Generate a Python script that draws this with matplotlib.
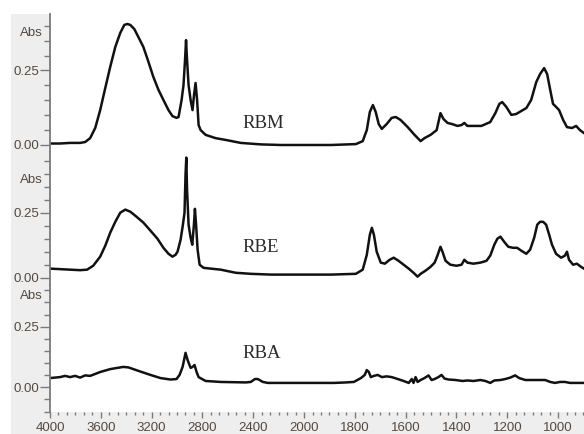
import numpy as np
import matplotlib
matplotlib.use("Agg")
import matplotlib.pyplot as plt
from matplotlib.patches import Rectangle
from matplotlib.ticker import FixedLocator, MultipleLocator, FixedFormatter

# ---------------- data ----------------
rbm_wn = [4000, 3921, 3842, 3763, 3723, 3684, 3644, 3605, 3565, 3526, 3486, 3447, 3415, 3391,
          3368, 3336, 3304, 3265, 3225, 3186, 3146, 3107, 3067, 3036, 3004, 2988, 2964, 2949,
          2937, 2929, 2921, 2909, 2893, 2878, 2866, 2854, 2842, 2830, 2814, 2775, 2696, 2617,
          2498, 2340, 2182, 2024, 1894, 1796, 1769, 1753, 1741, 1729, 1718, 1706, 1694, 1675,
          1655, 1639, 1620, 1592, 1565, 1541, 1526, 1502, 1478, 1463, 1451, 1435, 1416, 1396,
          1380, 1369, 1357, 1329, 1302, 1267, 1247, 1231, 1220, 1204, 1184, 1165, 1145, 1125,
          1106, 1086, 1071, 1055, 1043, 1031, 1020, 1008, 996, 980, 965, 945, 929, 914, 898]
rbm_abs = [0.005, 0.005, 0.007, 0.007, 0.010, 0.023, 0.057, 0.117, 0.191, 0.262, 0.329, 0.376,
           0.403, 0.406, 0.403, 0.389, 0.362, 0.329, 0.279, 0.228, 0.185, 0.151, 0.117, 0.097,
           0.091, 0.094, 0.151, 0.201, 0.285, 0.352, 0.285, 0.201, 0.151, 0.117, 0.168, 0.208,
           0.151, 0.067, 0.050, 0.034, 0.023, 0.017, 0.007, 0.002, 0.000, 0.000, 0.000, 0.003,
           0.013, 0.050, 0.111, 0.134, 0.111, 0.070, 0.054, 0.070, 0.091, 0.094, 0.084, 0.060,
           0.034, 0.013, 0.023, 0.034, 0.050, 0.107, 0.087, 0.074, 0.070, 0.064, 0.067, 0.074,
           0.064, 0.064, 0.064, 0.077, 0.107, 0.138, 0.144, 0.128, 0.101, 0.104, 0.114, 0.124,
           0.151, 0.211, 0.238, 0.258, 0.238, 0.185, 0.138, 0.128, 0.117, 0.084, 0.060, 0.057,
           0.064, 0.050, 0.040]

rbe_wn = [4000, 3921, 3842, 3763, 3708, 3660, 3605, 3565, 3526, 3486, 3447, 3407, 3368, 3320,
          3265, 3209, 3154, 3107, 3067, 3036, 3012, 2996, 2972, 2956, 2941, 2933, 2927, 2921,
          2909, 2893, 2880, 2867, 2859, 2850, 2838, 2822, 2791, 2735, 2656, 2538, 2419, 2261,
          2024, 1894, 1796, 1769, 1753, 1741, 1733, 1725, 1714, 1698, 1682, 1663, 1647, 1628,
          1608, 1588, 1569, 1553, 1541, 1522, 1502, 1486, 1475, 1463, 1455, 1443, 1424, 1400,
          1380, 1369, 1357, 1333, 1306, 1282, 1267, 1251, 1239, 1227, 1212, 1196, 1177, 1161,
          1145, 1125, 1110, 1094, 1082, 1071, 1059, 1047, 1035, 1024, 1008, 988, 973, 965, 957,
          941, 926, 910, 898]
rbe_abs = [0.035, 0.033, 0.031, 0.029, 0.031, 0.046, 0.081, 0.123, 0.173, 0.215, 0.250, 0.262,
           0.254, 0.235, 0.212, 0.181, 0.150, 0.115, 0.092, 0.081, 0.088, 0.100, 0.146, 0.196,
           0.250, 0.396, 0.462, 0.338, 0.204, 0.154, 0.127, 0.204, 0.265, 0.204, 0.108, 0.050,
           0.038, 0.035, 0.031, 0.019, 0.015, 0.012, 0.012, 0.012, 0.015, 0.031, 0.088, 0.165,
           0.192, 0.165, 0.100, 0.058, 0.054, 0.069, 0.077, 0.065, 0.050, 0.035, 0.019, 0.004,
           0.015, 0.027, 0.042, 0.058, 0.085, 0.119, 0.100, 0.065, 0.050, 0.046, 0.050, 0.069,
           0.058, 0.054, 0.058, 0.065, 0.085, 0.127, 0.150, 0.158, 0.138, 0.119, 0.115, 0.115,
           0.104, 0.092, 0.108, 0.154, 0.204, 0.215, 0.215, 0.204, 0.165, 0.127, 0.092, 0.077,
           0.085, 0.100, 0.069, 0.050, 0.054, 0.042, 0.035]

rba_wn = [4000, 3960, 3921, 3881, 3842, 3802, 3763, 3723, 3684, 3644, 3605, 3565, 3526, 3470,
          3423, 3383, 3344, 3289, 3209, 3130, 3051, 3004, 2980, 2956, 2933, 2917, 2893, 2878,
          2862, 2846, 2830, 2775, 2656, 2458, 2419, 2387, 2364, 2324, 2285, 2024, 1882, 1835,
          1804, 1776, 1761, 1753, 1745, 1737, 1725, 1710, 1694, 1675, 1655, 1631, 1608, 1588,
          1576, 1569, 1561, 1553, 1541, 1526, 1510, 1498, 1486, 1471, 1459, 1447, 1431, 1404,
          1376, 1357, 1333, 1306, 1286, 1267, 1251, 1227, 1208, 1188, 1169, 1153, 1129, 1090,
          1051, 1031, 1012, 992, 973, 953, 926, 898]
rba_abs = [0.038, 0.040, 0.042, 0.047, 0.042, 0.047, 0.040, 0.049, 0.047, 0.055, 0.063, 0.069,
           0.075, 0.080, 0.084, 0.082, 0.075, 0.065, 0.051, 0.038, 0.032, 0.034, 0.051, 0.084,
           0.142, 0.113, 0.080, 0.084, 0.092, 0.063, 0.042, 0.026, 0.022, 0.020, 0.022, 0.034,
           0.034, 0.022, 0.018, 0.018, 0.018, 0.020, 0.022, 0.038, 0.051, 0.071, 0.063, 0.042,
           0.047, 0.051, 0.042, 0.045, 0.042, 0.034, 0.026, 0.018, 0.034, 0.018, 0.042, 0.022,
           0.030, 0.038, 0.049, 0.030, 0.034, 0.042, 0.051, 0.036, 0.032, 0.030, 0.026, 0.028,
           0.026, 0.030, 0.026, 0.018, 0.028, 0.030, 0.034, 0.040, 0.049, 0.038, 0.030, 0.030,
           0.030, 0.022, 0.018, 0.022, 0.022, 0.018, 0.018, 0.018]

series_names = ["RBM", "RBE", "RBA"]
x_ticks = [4000, 3600, 3200, 2800, 2400, 2000, 1800, 1600, 1400, 1200, 1000]
y_ticks = [0.00, 0.25]
y_ticklabels = ["0.00", "0.25"]

# ---------------- split wavenumber scale (expanded below 2000) ----------------
# increasing in x; the axis is then inverted through the x limits
def fwd(x):
    x = np.asarray(x, dtype=float)
    return np.where(x >= 2000, (x - 2000) / 400.0, (x - 2000) / 200.0)

def inv(t):
    t = np.asarray(t, dtype=float)
    return np.where(t >= 0, 2000 + 400.0 * t, 2000 + 200.0 * t)

W, H = 584, 434
fig = plt.figure(figsize=(W / 100, H / 100), dpi=100)
fig.patch.set_facecolor("white")
bg = Rectangle((11 / W, 0), 1, (H - 14) / H, transform=fig.transFigure,
               facecolor="#eeeeee", edgecolor="none", zorder=-5)
fig.patches.append(bg)

tick_col = "#7a7a7a"
lab_col = "#54493f"
ax_left = 50 / W
ax_w = 1 - ax_left
fs = 9.5

# (top px, bottom px, ylim)
panels = [
    (14, 152, (-0.0235, 0.4396)),
    (152, 285, (-0.028, 0.4835)),
    (285, 412, (-0.102, 0.422)),
]
datas = [(rbm_wn, rbm_abs), (rbe_wn, rbe_abs), (rba_wn, rba_abs)]
label_pos = [(2324, 0.072), (2340, 0.118), (2332, 0.141)]

minor_t = np.arange(-5.5, 5.01, 1 / 6)
for i, ((top, bot, ylim), (wn, ab), name, lp) in enumerate(zip(panels, datas, series_names, label_pos)):
    ax = fig.add_axes([ax_left, (H - bot) / H, ax_w, (bot - top) / H])
    ax.set_facecolor("white")
    ax.set_xscale("function", functions=(fwd, inv))
    ax.plot(wn, ab, color="#111111", lw=1.8, solid_joinstyle="round")
    ax.set_xlim(4000, 898)
    ax.set_ylim(*ylim)
    for s in ["top", "right", "bottom"]:
        ax.spines[s].set_visible(False)
    ax.spines["left"].set_color(tick_col)
    ax.spines["left"].set_linewidth(1.3)
    ax.yaxis.set_major_locator(FixedLocator(y_ticks))
    ax.yaxis.set_major_formatter(FixedFormatter(y_ticklabels))
    ax.yaxis.set_minor_locator(MultipleLocator(0.05))
    ax.tick_params(axis="y", which="major", direction="out", length=7, width=1,
                   color=tick_col, labelcolor=lab_col, labelsize=fs, pad=1)
    ax.tick_params(axis="y", which="minor", direction="out", length=4, width=1,
                   color=tick_col)
    for t in ax.get_yticklabels():
        t.set_family("Liberation Sans")
    ax.text(-0.013, 0.375, "Abs", transform=ax.get_yaxis_transform(), ha="right",
            va="center", fontsize=fs, color=lab_col, family="Liberation Sans")
    ax.text(lp[0], lp[1], name, ha="center", va="center", fontsize=13.5,
            family="Liberation Serif", color="#2a2a2a")
    if i < 2:
        ax.tick_params(axis="x", which="both", bottom=False, labelbottom=False)
    else:
        ax.xaxis.set_major_locator(FixedLocator(x_ticks))
        ax.xaxis.set_major_formatter(FixedFormatter([str(v) for v in x_ticks]))
        ax.xaxis.set_minor_locator(FixedLocator(inv(minor_t)))
        ax.tick_params(axis="x", which="major", direction="out", length=4, width=1,
                       color=tick_col, labelcolor=lab_col, labelsize=fs, pad=3)
        ax.tick_params(axis="x", which="minor", direction="out", length=2.5, width=1,
                       color=tick_col)
        for t in ax.get_xticklabels():
            t.set_family("Liberation Sans")

fig.savefig("out.png", dpi=100, facecolor=fig.get_facecolor())
